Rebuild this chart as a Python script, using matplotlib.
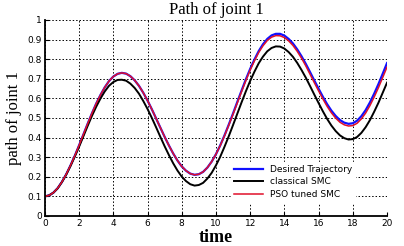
import matplotlib
matplotlib.use("Agg")
import matplotlib.pyplot as plt

# time samples (s), every 0.25 s
time = [i * 0.25 for i in range(81)]

desired = [0.100, 0.105, 0.119, 0.142, 0.174, 0.213, 0.258, 0.307, 0.360, 0.415,
           0.470, 0.523, 0.573, 0.617, 0.656, 0.688, 0.711, 0.725, 0.730, 0.726,
           0.713, 0.692, 0.664, 0.629, 0.589, 0.545, 0.498, 0.451, 0.404, 0.360,
           0.319, 0.283, 0.253, 0.231, 0.216, 0.210, 0.213, 0.225, 0.247, 0.277,
           0.315, 0.360, 0.411, 0.466, 0.523, 0.582, 0.640, 0.697, 0.750, 0.798,
           0.841, 0.876, 0.903, 0.921, 0.929, 0.929, 0.920, 0.903, 0.880, 0.850,
           0.815, 0.776, 0.734, 0.691, 0.649, 0.608, 0.570, 0.537, 0.510, 0.489,
           0.476, 0.470, 0.473, 0.486, 0.509, 0.540, 0.579, 0.624, 0.673, 0.726,
           0.780]

classical = [0.100, 0.105, 0.119, 0.141, 0.173, 0.211, 0.255, 0.303, 0.353, 0.406,
             0.459, 0.510, 0.557, 0.599, 0.635, 0.664, 0.683, 0.694, 0.695, 0.690,
             0.675, 0.653, 0.624, 0.587, 0.546, 0.501, 0.453, 0.404, 0.356, 0.311,
             0.269, 0.232, 0.201, 0.178, 0.162, 0.155, 0.158, 0.169, 0.191, 0.220,
             0.258, 0.302, 0.353, 0.407, 0.464, 0.522, 0.580, 0.636, 0.689, 0.736,
             0.779, 0.813, 0.840, 0.857, 0.865, 0.864, 0.854, 0.836, 0.812, 0.781,
             0.745, 0.706, 0.663, 0.619, 0.576, 0.534, 0.495, 0.461, 0.433, 0.411,
             0.397, 0.390, 0.392, 0.403, 0.424, 0.453, 0.489, 0.532, 0.578, 0.629,
             0.680]

pso = [0.100, 0.105, 0.119, 0.142, 0.174, 0.213, 0.258, 0.307, 0.360, 0.415,
       0.470, 0.523, 0.573, 0.617, 0.656, 0.688, 0.711, 0.725, 0.730, 0.726,
       0.713, 0.692, 0.664, 0.629, 0.589, 0.545, 0.498, 0.451, 0.404, 0.360,
       0.319, 0.283, 0.253, 0.231, 0.216, 0.210, 0.213, 0.225, 0.247, 0.277,
       0.315, 0.359, 0.409, 0.463, 0.519, 0.577, 0.635, 0.691, 0.744, 0.791,
       0.834, 0.868, 0.895, 0.912, 0.920, 0.919, 0.910, 0.893, 0.870, 0.840,
       0.805, 0.766, 0.723, 0.680, 0.638, 0.597, 0.559, 0.526, 0.499, 0.478,
       0.465, 0.459, 0.461, 0.473, 0.495, 0.525, 0.563, 0.607, 0.655, 0.707,
       0.760]

xticks = list(range(0, 21, 2))
yticks = [0, 0.1, 0.2, 0.3, 0.4, 0.5, 0.6, 0.7, 0.8, 0.9, 1]
ytick_labels = ["0", "0.1", "0.2", "0.3", "0.4", "0.5", "0.6", "0.7", "0.8", "0.9", "1"]

fig = plt.figure(figsize=(4.04, 2.46), dpi=100)
ax = fig.add_axes([0.111, 0.122, 0.847, 0.797])

ax.plot(time, desired, color="#1010ff", lw=1.6, label="Desired Trajectory")
ax.plot(time, classical, color="black", lw=1.4, label="classical SMC")
ax.plot(time, pso, color="#e0102a", lw=1.1, label="PSO tuned SMC")

ax.set_xlim(0, 20)
ax.set_ylim(0, 1)
ax.set_xticks(xticks)
ax.set_yticks(yticks)
ax.set_yticklabels(ytick_labels)
ax.tick_params(direction="in", length=3, labelsize=6.5, pad=2)
for lab in ax.get_xticklabels() + ax.get_yticklabels():
    lab.set_fontfamily("DejaVu Sans")
ax.grid(True, linestyle=(0, (1.5, 2)), color="black", lw=0.7)
ax.spines["top"].set_visible(False)
ax.spines["right"].set_visible(False)
ax.spines["left"].set_linewidth(1.3)
ax.spines["bottom"].set_linewidth(1.3)

ax.set_title("Path of joint 1", family="Liberation Serif", fontsize=12, pad=4)
ax.set_xlabel("time", family="Liberation Serif", fontsize=13, fontweight="bold", labelpad=1)
ax.set_ylabel("path of joint 1", family="Liberation Serif", fontsize=12, labelpad=4)

leg = ax.legend(loc="lower right", bbox_to_anchor=(0.92, 0.05), fontsize=6.5,
                frameon=True, fancybox=False, edgecolor="white", framealpha=1,
                handlelength=3.2, borderpad=0.3, labelspacing=0.4)

fig.savefig("out.png", dpi=100)
